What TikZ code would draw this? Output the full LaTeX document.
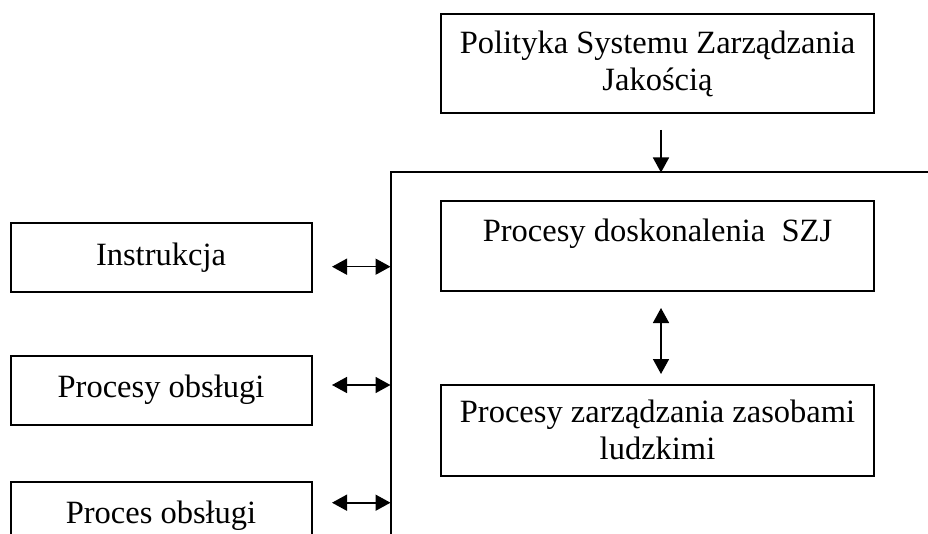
\documentclass[tikz,border=0pt]{standalone}
\usepackage{fontspec}
\setmainfont{Liberation Serif}
\usetikzlibrary{arrows.meta,positioning}

\begin{document}
\begin{tikzpicture}[x=1pt, y=-1pt,
    every node/.style={font=\fontsize{32.5}{37}\selectfont},
    box/.style={draw, line width=2pt, minimum width=433pt, minimum height=90pt, align=center, inner sep=0pt},
    sidebox/.style={draw, line width=2pt, minimum width=301pt, minimum height=69pt, inner sep=0pt},
    link/.style={line width=1.6pt, -{Triangle[length=15pt,width=16pt]}},
    dlink/.style={line width=1.6pt, {Triangle[length=15pt,width=16pt]}-{Triangle[length=15pt,width=16pt]}}]
    \useasboundingbox (0,0) rectangle (928,534);
    % Polityka
    \node[box, minimum height=99pt] (polityka) at (657.5,63.5) {Polityka Systemu Zarządzania\\Jakością};
    \coordinate (wejscie) at (661,130);
    % Rama
    \coordinate (naroznik) at (390.5,172.5);
    \coordinate (ramaP) at (930,172.5);
    \coordinate (ramaD) at (390.5,540);
    \draw[line width=2pt] (ramaP) -- (naroznik) -- (ramaD);
    \draw[link] (wejscie) -- (wejscie |- naroznik);
    % Procesy wewnatrz
    \node[box] (doskonalenie) at (657.5,246) {};
    \node[anchor=base] (doskTxt) at (657.5,241.7) {Procesy doskonalenia\ \ SZJ};
    \node[box, minimum height=91pt] (zasoby) at (657.5,430) {Procesy zarządzania zasobami\\ludzkimi};
    \coordinate (gora) at (661,308);
    \coordinate (dol) at (661,374);
    \draw[dlink] (gora) -- (dol);
    % Procesy z lewej
    \foreach \n/\yb/\ya/\t in {instr/257.5/266.7/Instrukcja, obsl/390/385/Procesy obsługi, obsl2/516/502.7/Proces obsługi} {
        \node[sidebox] (\n) at (161,\yb) {\t};
        \coordinate (\n L) at (332,\ya);
        \draw[dlink] (\n L) -- (\n L -| naroznik);
    }
\end{tikzpicture}
\end{document}
